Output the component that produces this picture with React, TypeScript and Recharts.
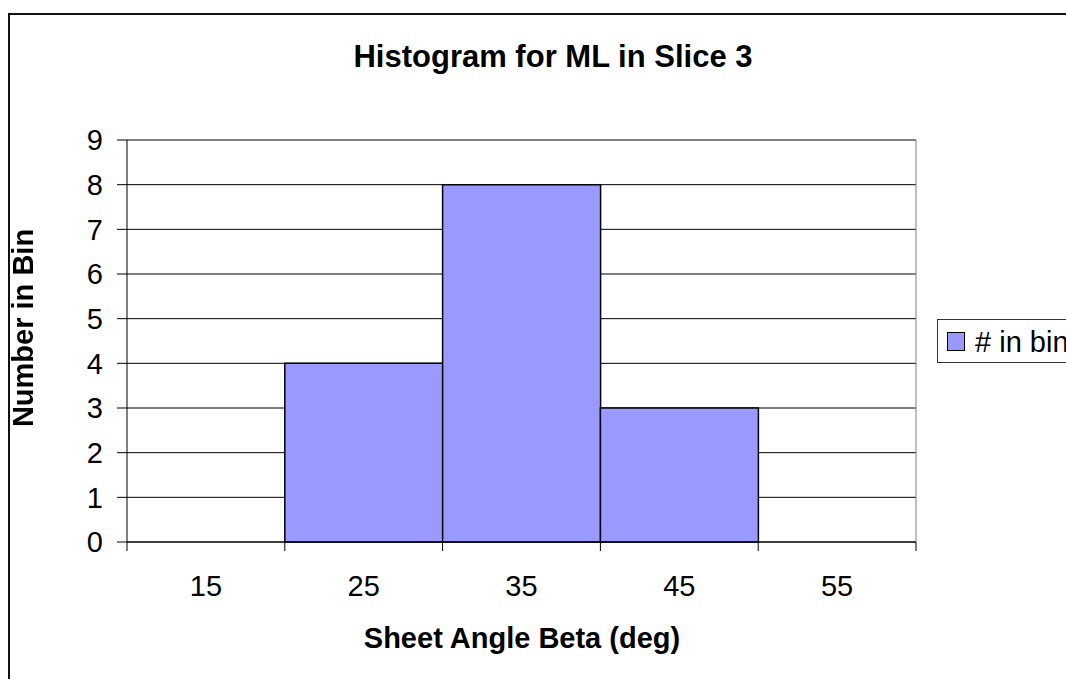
import React from "react";
import { BarChart, Bar, XAxis, YAxis, CartesianGrid } from "recharts";

// histogram bins (bin centres, degrees) and counts
const bins = ["15", "25", "35", "45", "55"];
const counts = [0, 4, 8, 3, 0];
const yTicks = [0, 1, 2, 3, 4, 5, 6, 7, 8, 9];
const seriesName = "# in bin";

const data = bins.map((bin, i) => ({ bin, count: counts[i] }));

const FONT = "'Liberation Sans', Arial, Helvetica, sans-serif";
const BAR_FILL = "#9999FF";

const CHART_W = 1150;
const CHART_H = 700;

// category ticks sit on the bin edges, labels in the middle of each bin
const BinTick = (props: any) => {
  const { x, y, payload, index, visibleTicksCount } = props;
  const half = payload?.offset ?? 0;
  const last = index === visibleTicksCount - 1;
  return (
    <g>
      <line x1={x - half} y1={y} x2={x - half} y2={y + 9} stroke="#000" />
      {last && (
        <line x1={x + half} y1={y} x2={x + half} y2={y + 9} stroke="#000" />
      )}
      <text
        x={x}
        y={y + 54}
        textAnchor="middle"
        fontSize={29}
        fontFamily={FONT}
        fill="#000"
      >
        {payload.value}
      </text>
    </g>
  );
};

const LegendBox = () => (
  <div
    style={{
      position: "fixed",
      left: 937,
      top: 319,
      display: "flex",
      alignItems: "center",
      boxSizing: "border-box",
      height: 44,
      paddingLeft: 9,
      paddingRight: 20,
      border: "1px solid #333",
      background: "#fff",
      whiteSpace: "nowrap",
      fontFamily: FONT,
    }}
  >
    <span
      style={{
        display: "inline-block",
        boxSizing: "border-box",
        width: 18,
        height: 19,
        background: BAR_FILL,
        border: "1.5px solid #000",
        marginRight: 10,
      }}
    />
    <span
      style={{ fontSize: 29, lineHeight: 1, color: "#000", marginTop: 3 }}
    >
      {seriesName}
    </span>
  </div>
);

export default function App() {
  return (
    <>
      <div
        style={{
          position: "fixed",
          left: 8,
          top: 13,
          width: CHART_W + 4,
          height: CHART_H + 4,
          boxSizing: "border-box",
          borderLeft: "2px solid #111",
          borderTop: "2px solid #111",
          background: "#fff",
          overflow: "hidden",
        }}
      >
        <BarChart
          width={CHART_W}
          height={CHART_H}
          data={data}
          margin={{ top: 125, right: 244, bottom: 113, left: 0 }}
          barCategoryGap={0}
          barGap={0}
        >
          <CartesianGrid vertical={false} stroke="#000" />
          <CartesianGrid
            stroke="#808080"
            horizontalCoordinatesGenerator={({ offset }: any) => [offset.top]}
            verticalCoordinatesGenerator={({ offset }: any) => [
              offset.left + offset.width,
            ]}
          />
          <XAxis
            dataKey="bin"
            height={60}
            axisLine={{ stroke: "#000" }}
            tickLine={false}
            tickSize={0}
            tickMargin={0}
            tick={<BinTick />}
            interval={0}
          />
          <YAxis
            width={117}
            domain={[0, 9]}
            ticks={yTicks}
            interval={0}
            axisLine={{ stroke: "#000" }}
            tickLine={{ stroke: "#000" }}
            tickSize={10}
            tickMargin={14}
            tick={{ fontSize: 29, fontFamily: FONT, fill: "#000" }}
          />
          <Bar
            dataKey="count"
            name={seriesName}
            fill={BAR_FILL}
            stroke="#000"
            strokeWidth={1.5}
            isAnimationActive={false}
          />
        </BarChart>
      </div>
      <LegendBox />
      <svg
        width={1066}
        height={679}
        style={{ position: "fixed", left: 0, top: 0, pointerEvents: "none" }}
        fontFamily={FONT}
      >
        <text
          x={553}
          y={67}
          textAnchor="middle"
          fontSize={31}
          fontWeight="bold"
          fill="#000"
        >
          Histogram for ML in Slice 3
        </text>
        <text
          x={522}
          y={648}
          textAnchor="middle"
          fontSize={29}
          fontWeight="bold"
          fill="#000"
        >
          Sheet Angle Beta (deg)
        </text>
        <text
          transform="translate(33, 328) rotate(-90)"
          textAnchor="middle"
          fontSize={29}
          fontWeight="bold"
          fill="#000"
        >
          Number in Bin
        </text>
      </svg>
    </>
  );
}
